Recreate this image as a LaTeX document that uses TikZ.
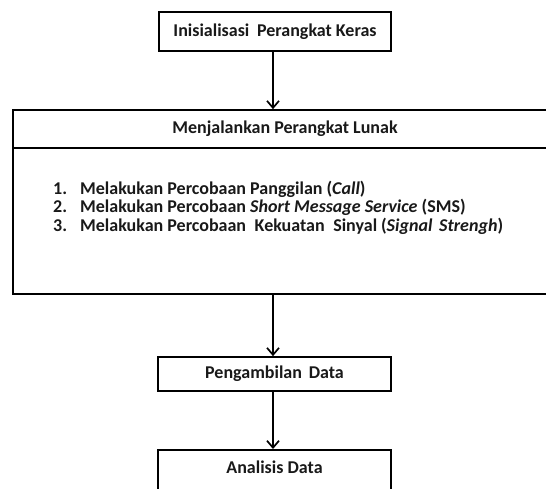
\documentclass[tikz,border=0pt]{standalone}
\usepackage{fontspec}
\setmainfont{Carlito}
\usetikzlibrary{arrows.meta}
\begin{document}
\begin{tikzpicture}[x=1pt,y=-1pt,
  every node/.style={font=\bfseries\fontsize{18}{21}\selectfont, text=black!90},
  box/.style={draw, line width=1.7pt, inner sep=0pt},
  flow/.style={line width=1.7pt, -{Straight Barb[length=7pt,width=12pt,line width=1.7pt]}},
  item/.style={anchor=base west, inner sep=0pt}]
\useasboundingbox (0,0) rectangle (546,488);
\clip (0,0) rectangle (546,488);
\fill[white] (0,0) rectangle (546,488);
\node[box, minimum width=232pt, minimum height=39pt] (init) at (275,31.5) {Inisialisasi\hspace{0.2em} Perangkat Keras};
\node[box, minimum width=544pt, minimum height=38pt] (head) at (285,129) {Menjalankan Perangkat Lunak};
\node[box, minimum width=544pt, minimum height=146pt] (body) at (285,221) {};
\node[item] (n1) at (53,194) {1.};
\node[item] (n2) at (53,212.5) {2.};
\node[item] (n3) at (53,231) {3.};
\node[item] (t1) at (80,194) {Melakukan Percobaan Panggilan (\textit{Call})};
\node[item] (t2) at (80,212.5) {Melakukan Percobaan \textit{Short Message Service} (SMS)};
\node[item] (t3) at (80,231) {Melakukan Percobaan\hspace{0.25em} Kekuatan\hspace{0.25em} Sinyal (\textit{Signal\hspace{0.15em} Strengh})};
\node[box, minimum width=233pt, minimum height=34pt] (ambil) at (274.5,374) {Pengambilan\hspace{0.15em} Data};
\node[box, minimum width=233pt, minimum height=51pt, anchor=north] (analisis) at (274.5,449) {};
\node (analisistext) at (274.5,467) {Analisis Data};
\draw[flow] (init.south -| 273,0) -- (head.north -| 273,0);
\draw[flow] (body.south -| 273,0) -- (ambil.north -| 273,0);
\draw[flow] (ambil.south -| 273,0) -- (analisis.north -| 273,0);
\end{tikzpicture}
\end{document}
